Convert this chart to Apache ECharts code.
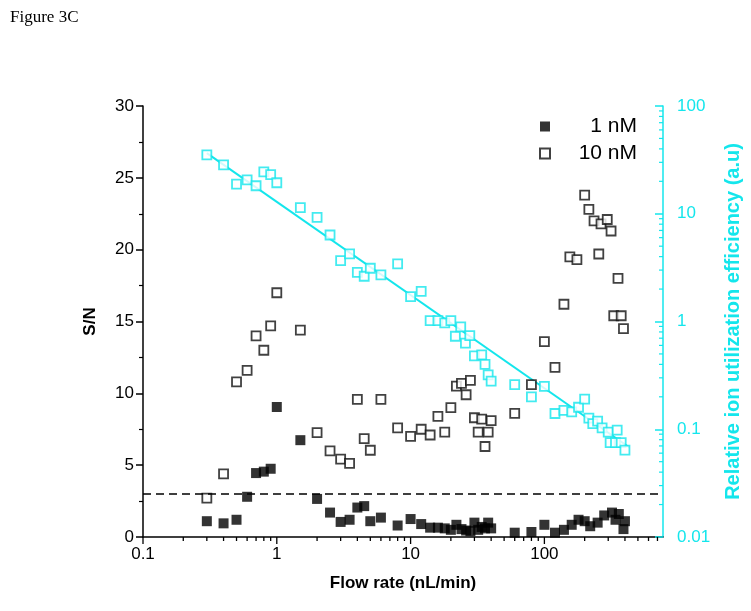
<!DOCTYPE html>
<html>
<head>
<meta charset="utf-8">
<script src="https://cdn.jsdelivr.net/npm/echarts@6/dist/echarts.min.js"></script>
<style>
  html, body { margin: 0; padding: 0; background: #fff; }
  #chart { width: 751px; height: 611px; }
</style>
</head>
<body>
<div id="chart"></div>
<script>
// flow rate (nL/min) for each series
const effFlow = [0.3, 0.4, 0.5, 0.6, 0.7, 0.8, 0.9, 1.0, 1.5, 2.0, 2.5, 3.0, 3.5, 4.0, 4.5, 5.0, 6.0, 8.0,
  10, 12, 14, 16, 18, 20, 21.6, 23.7, 25.7, 27.7, 30, 34, 36, 38, 40, 60, 80, 100, 120, 140, 160, 180,
  200, 215, 230, 250, 270, 300, 310, 340, 350, 375, 400];
const effValue = [35.2, 28.4, 18.8, 20.6, 18.2, 24.5, 23.1, 19.4, 11.4, 9.25, 6.35, 3.67, 4.24, 2.86, 2.63, 3.12, 2.71, 3.42,
  1.70, 1.90, 1.02, 1.02, 0.97, 1.02, 0.73, 0.89, 0.63, 0.74, 0.48, 0.49, 0.40, 0.32, 0.28, 0.26, 0.20, 0.25, 0.14, 0.15, 0.145, 0.16,
  0.19, 0.127, 0.113, 0.119, 0.103, 0.094, 0.075, 0.075, 0.098, 0.075, 0.064];

const tenFlow = [0.3, 0.4, 0.5, 0.6, 0.7, 0.8, 0.9, 1.0, 1.5, 2.0, 2.5, 3.0, 3.5, 4.0, 4.5, 5.0, 6.0, 8.0,
  10, 12, 14, 16, 18, 20, 22, 24, 26, 28, 30, 32, 34, 36, 38, 40, 60, 80, 100, 120, 140, 155, 175,
  200, 215, 235, 255, 265, 295, 315, 330, 355, 375, 390];
const tenSN = [2.7, 4.4, 10.8, 11.6, 14.0, 13.0, 14.7, 17.0, 14.4, 7.27, 6.0, 5.42, 5.12, 9.58, 6.85, 6.04, 9.58, 7.6,
  7.0, 7.5, 7.1, 8.4, 7.3, 9.0, 10.5, 10.7, 9.9, 10.9, 8.3, 7.3, 8.2, 6.3, 7.3, 8.1, 8.6, 10.6, 13.6, 11.8, 16.2, 19.5, 19.3,
  23.8, 22.8, 22.0, 19.7, 21.8, 22.1, 21.3, 15.4, 18.0, 15.4, 14.5];

const oneFlow = [0.3, 0.4, 0.5, 0.6, 0.7, 0.8, 0.9, 1.0, 1.5, 2.0, 2.5, 3.0, 3.5, 4.0, 4.5, 5.0, 6.0, 8.0,
  10, 12, 14, 16, 18, 20, 22, 24, 26, 28, 30, 32, 34, 36, 38, 40, 60, 80, 100, 120, 140, 160, 180,
  200, 220, 250, 280, 320, 340, 360, 390, 400];
const oneSN = [1.1, 0.95, 1.2, 2.8, 4.45, 4.55, 4.75, 9.05, 6.74, 2.65, 1.7, 1.05, 1.2, 2.05, 2.15, 1.1, 1.35, 0.8,
  1.25, 0.9, 0.65, 0.65, 0.6, 0.5, 0.85, 0.55, 0.45, 0.4, 1.0, 0.5, 0.7, 0.6, 1.0, 0.6, 0.3, 0.35, 0.85, 0.3, 0.5, 0.85, 1.2,
  1.1, 0.75, 1.0, 1.5, 1.7, 1.2, 1.6, 0.55, 1.1];

// power-law fit drawn through the efficiency points (end points)
const fitFlow = [0.3, 430];
const fitValue = [36.5, 0.068];

const snThreshold = 3;

const xMajorTicks = [0.1, 1, 10, 100];
const xMinorTicks = [0.2, 0.3, 0.4, 0.5, 0.6, 0.7, 0.8, 0.9, 2, 3, 4, 5, 6, 7, 8, 9,
  20, 30, 40, 50, 60, 70, 80, 90, 200, 300, 400, 500, 600, 700];
const rightMinorTicks = [0.02, 0.03, 0.04, 0.05, 0.06, 0.07, 0.08, 0.09, 0.2, 0.3, 0.4, 0.5, 0.6, 0.7, 0.8, 0.9,
  2, 3, 4, 5, 6, 7, 8, 9, 20, 30, 40, 50, 60, 70, 80, 90];

const X_MAX = 770;
const CYAN = "#14E6EC";
const FONT = "Liberation Sans";

const zip = (a, b) => a.map((v, i) => [v, b[i]]);

function tickSeries(name, data, yAxisIndex, draw) {
  return {
    name: name,
    type: "custom",
    xAxisIndex: 0,
    yAxisIndex: yAxisIndex,
    silent: true,
    clip: false,
    z: 5,
    data: data,
    renderItem: (params, api) => draw(api.coord([api.value(0), api.value(1)]), api.value(2)),
  };
}

const chart = echarts.init(document.getElementById("chart"));
const option = {
  animation: false,
  backgroundColor: "#fff",
  textStyle: { fontFamily: FONT },
  graphic: [{
    type: "text", left: 10, top: 9,
    style: { text: "Figure 3C", font: "17px 'Liberation Serif'", fill: "#000" },
  }],
  grid: { left: 143, right: 85, top: 106, bottom: 74 },
  legend: {
    data: ["1 nM", "10 nM"],
    orient: "vertical",
    left: 534, top: 111,
    itemWidth: 10, itemHeight: 10, itemGap: 6,
    icon: "rect",
    formatter: "{a|{name}}",
    textStyle: {
      rich: { a: { width: 82, align: "right", fontSize: 21, fontFamily: FONT, color: "#000" } },
    },
  },
  xAxis: {
    type: "log", logBase: 10, min: 0.1, max: X_MAX,
    name: "Flow rate (nL/min)", nameLocation: "middle", nameGap: 38,
    nameTextStyle: { fontSize: 17, fontWeight: "bold", color: "#000", fontFamily: FONT },
    axisLine: { lineStyle: { color: "#000", width: 1.5 } },
    axisTick: { show: false },
    splitLine: { show: false },
    axisLabel: {
      fontSize: 17, color: "#000", margin: 9, fontFamily: FONT,
      formatter: (v) => {
        const l = Math.log10(v);
        return Math.abs(l - Math.round(l)) < 1e-6 ? String(+v.toPrecision(3)) : "";
      },
    },
  },
  yAxis: [
    {
      type: "value", min: 0, max: 30, interval: 5,
      name: "S/N", nameLocation: "middle", nameGap: 44, nameRotate: 90,
      nameTextStyle: { fontSize: 17, fontWeight: "bold", color: "#000", fontFamily: FONT },
      axisLine: { show: true, lineStyle: { color: "#000", width: 1.5 } },
      axisTick: { length: 7, lineStyle: { color: "#000", width: 1.5 } },
      minorTick: { show: true, splitNumber: 2, length: 4, lineStyle: { color: "#000", width: 1.2 } },
      splitLine: { show: false },
      axisLabel: { fontSize: 17, color: "#000", margin: 9, fontFamily: FONT },
    },
    {
      type: "log", logBase: 10, min: 0.01, max: 100, position: "right",
      name: "Relative ion utilization efficiency (a.u)", nameLocation: "middle", nameGap: 60, nameRotate: 90,
      nameTextStyle: { fontSize: 20, fontWeight: "bold", color: CYAN, fontFamily: FONT },
      axisLine: { show: true, lineStyle: { color: CYAN, width: 1.5 } },
      axisTick: { inside: true, length: 8, lineStyle: { color: CYAN, width: 1.5 } },
      splitLine: { show: false },
      axisLabel: {
        fontSize: 17, color: CYAN, margin: 14, fontFamily: FONT,
        formatter: (v) => String(+v.toPrecision(3)),
      },
    },
  ],
  series: [
    {
      name: "fit", type: "line", yAxisIndex: 1,
      data: zip(fitFlow, fitValue),
      showSymbol: false, symbol: "none",
      lineStyle: { color: CYAN, width: 2 },
      z: 2,
    },
    {
      name: "efficiency", type: "scatter", yAxisIndex: 1,
      data: zip(effFlow, effValue),
      symbol: "rect", symbolSize: 9,
      itemStyle: { color: "#fff", borderColor: CYAN, borderWidth: 1.8 },
      z: 3,
    },
    {
      name: "10 nM", type: "scatter", yAxisIndex: 0,
      data: zip(tenFlow, tenSN),
      symbol: "rect", symbolSize: 9,
      itemStyle: { color: "#fff", borderColor: "#111", borderWidth: 1.8 },
      z: 3,
    },
    {
      name: "1 nM", type: "scatter", yAxisIndex: 0,
      data: zip(oneFlow, oneSN),
      symbol: "rect", symbolSize: 10,
      itemStyle: { color: "#000" },
      z: 4,
      markLine: {
        silent: true, symbol: "none", label: { show: false },
        lineStyle: { color: "#000", width: 1.6, type: [8, 5] },
        data: [{ yAxis: snThreshold }],
      },
    },
    tickSeries("xTicks",
      xMajorTicks.map((v) => [v, 0, 7]).concat(xMinorTicks.map((v) => [v, 0, 4])), 0,
      (p, len) => ({
        type: "line",
        shape: { x1: p[0], y1: p[1], x2: p[0], y2: p[1] + len },
        style: { stroke: "#000", lineWidth: 1.3 },
      })),
    tickSeries("rightTicks", rightMinorTicks.map((v) => [X_MAX, v, 4]), 1,
      (p, len) => ({
        type: "line",
        shape: { x1: p[0] - len, y1: p[1], x2: p[0], y2: p[1] },
        style: { stroke: CYAN, lineWidth: 1.2 },
      })),
  ],
};
chart.setOption(option);
</script>
</body>
</html>
